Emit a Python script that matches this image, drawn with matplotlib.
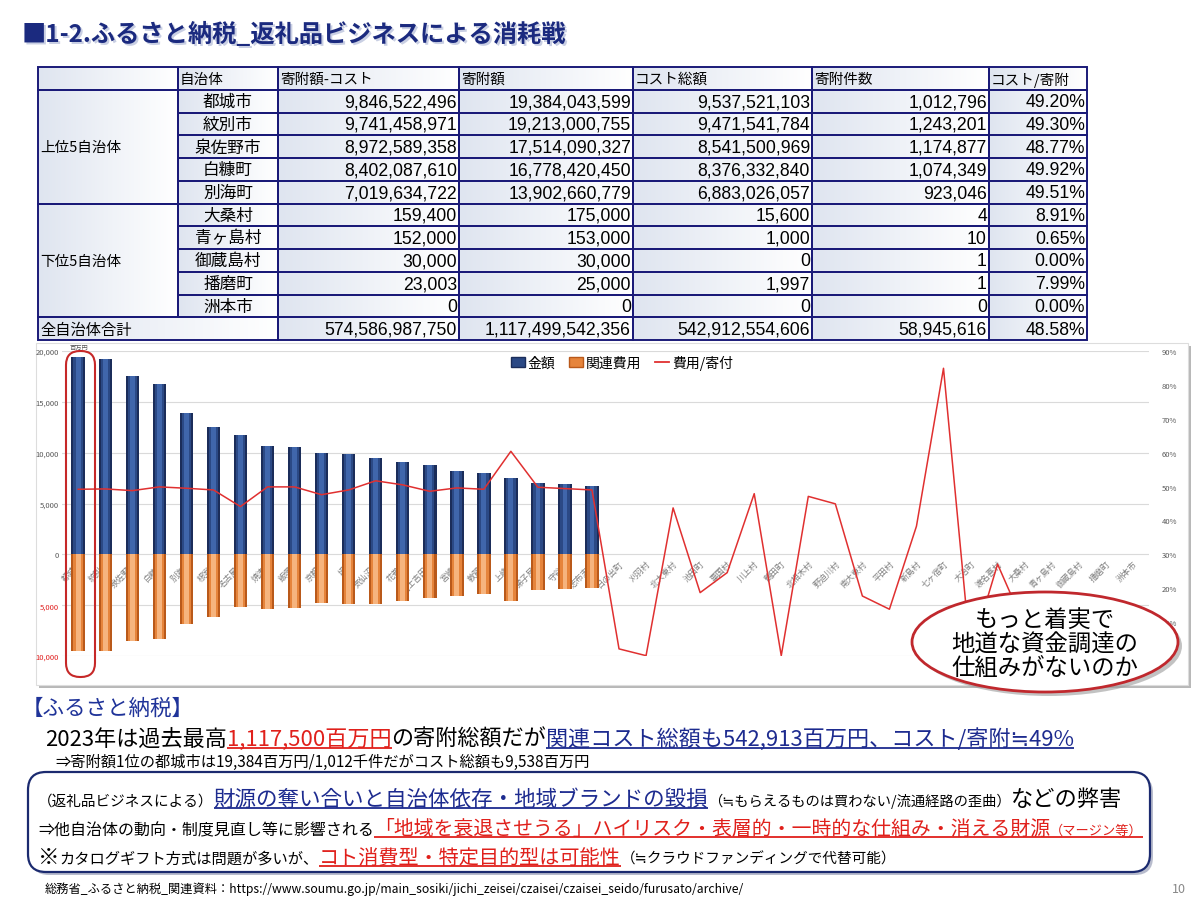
import matplotlib
matplotlib.use('Agg')
import matplotlib.pyplot as plt
import numpy as np
from matplotlib.patches import Rectangle, FancyBboxPatch, Ellipse
from matplotlib.lines import Line2D
from matplotlib.colors import LinearSegmentedColormap

plt.rcParams['font.family'] = ['Noto Sans CJK JP', 'DejaVu Sans']
NUMFAM = ['Liberation Sans', 'Noto Sans CJK JP']

# ---- table data ----
headers = ['', '自治体', '寄附額-コスト', '寄附額', 'コスト総額', '寄附件数', 'コスト/寄附']
tbl_munis = ['都城市', '紋別市', '泉佐野市', '白糠町', '別海町',
             '大桑村', '青ヶ島村', '御蔵島村', '播磨町', '洲本市']
tbl_net = [9846522496, 9741458971, 8972589358, 8402087610, 7019634722,
           159400, 152000, 30000, 23003, 0]
tbl_donation = [19384043599, 19213000755, 17514090327, 16778420450, 13902660779,
                175000, 153000, 30000, 25000, 0]
tbl_cost = [9537521103, 9471541784, 8541500969, 8376332840, 6883026057,
            15600, 1000, 0, 1997, 0]
tbl_count = [1012796, 1243201, 1174877, 1074349, 923046, 4, 10, 1, 1, 0]
tbl_ratio = [49.20, 49.30, 48.77, 49.92, 49.51, 8.91, 0.65, 0.00, 7.99, 0.00]
total_row = [574586987750, 1117499542356, 542912554606, 58945616, 48.58]

# ---- chart data (百万円) ----
munis = ['都城市', '紋別市', '泉佐野市', '白糠町', '別海町', '根室市', '名古屋市', '焼津市',
         '飯塚市', '京都市', '境町', '気仙沼市', '花巻市', '富士吉田市', '宮崎市', '敦賀市',
         '上峰町', '弟子屈町', '守谷市', '志布志市',
         '日の出町', '刈羽村', '北大東村', '池田町', '粟国村', '川上村', '鶴田町', '北相木村',
         '野迫川村', '南大東村', '平田村', '新島村', '七ヶ宿町', '大治町', '渡名喜村', '大桑村',
         '青ヶ島村', '御蔵島村', '播磨町', '洲本市']
donation = [19384, 19213, 17514, 16778, 13903, 12566, 11711, 10691, 10526, 9967,
            9901, 9441, 9046, 8783, 8158, 7961, 7500, 7039, 6875, 6711,
            1.2, 1.1, 1.0, 0.9, 0.9, 0.8, 0.8, 0.7, 0.7, 0.6,
            0.6, 0.5, 0.5, 0.4, 0.3, 0.175, 0.153, 0.03, 0.025, 0]
cost = [9538, 9472, 8542, 8376, 6883, 6151, 5197, 5329, 5263, 4770,
        4868, 4901, 4572, 4309, 4079, 3914, 4572, 3553, 3421, 3355,
        0.03, 0.0, 0.44, 0.17, 0.22, 0.38, 0.0, 0.33, 0.31, 0.11,
        0.08, 0.19, 0.42, 0.0, 0.08, 0.016, 0.001, 0, 0.002, 0]
ratio = [0.492, 0.493, 0.488, 0.499, 0.495, 0.490, 0.441, 0.499, 0.499, 0.476,
         0.490, 0.517, 0.505, 0.486, 0.496, 0.492, 0.604, 0.498, 0.494, 0.490,
         0.021, 0.001, 0.437, 0.187, 0.246, 0.479, 0.001, 0.471, 0.449, 0.177,
         0.138, 0.383, 0.849, 0.005, 0.271, 0.0891, 0.0065, 0.0, 0.0799, 0.0]

W, H = 1200, 903
fig = plt.figure(figsize=(12, 9.03), dpi=100)
bg = fig.add_axes([0, 0, 1, 1], zorder=0)
bg.axis('off')

NAVY = '#1b2a7f'
RED = '#e0201b'
BLUE = '#1d2b8f'

# title
title = '■1-2.ふるさと納税_返礼品ビジネスによる消耗戦'
bg.text(24, 36, title, fontsize=17.5, color='#c9cfe3', weight='bold', va='center')
bg.text(22, 34, title, fontsize=17.5, color=NAVY, weight='bold', va='center')

# table
col_x = [38, 178, 278, 459, 633, 812, 989, 1087]
row_y = [68 + 22.75 * i for i in range(13)]
grad = np.linspace(0, 1, 64).reshape(1, -1)
gcmap = LinearSegmentedColormap.from_list('g', ['#dfe5f0', '#ffffff'])


def cell(c0, c1, r0, r1, text='', align='left', size=10.5, fam=None):
    x0, x1 = col_x[c0], col_x[c1]
    y0, y1 = row_y[r0], row_y[r1]
    bg.imshow(grad, extent=[x0, x1, y1, y0], aspect='auto', cmap=gcmap, zorder=1)
    bg.add_patch(Rectangle((x0, y0), x1 - x0, y1 - y0, fill=False, ec='#1a1a78', lw=1.4, zorder=3))
    if not text:
        return
    ym = (y0 + y1) / 2 + 0.5
    kw = dict(fontsize=size, va='center', zorder=4, color='black')
    if fam:
        kw['family'] = fam
    if align == 'left':
        bg.text(x0 + 2, ym, text, ha='left', **kw)
    elif align == 'center':
        bg.text((x0 + x1) / 2, ym, text, ha='center', **kw)
    else:
        bg.text(x1 - 2, ym, text, ha='right', **kw)


for c, h in enumerate(headers):
    cell(c, c + 1, 0, 1, h, 'left', 10.5)
cell(0, 1, 1, 6, '上位5自治体', 'left', 10.5)
cell(0, 1, 6, 11, '下位5自治体', 'left', 10.5)
for i in range(10):
    r = i + 1
    cell(1, 2, r, r + 1, tbl_munis[i], 'center', 12)
    cell(2, 3, r, r + 1, f'{tbl_net[i]:,}', 'right', 12.7, NUMFAM)
    cell(3, 4, r, r + 1, f'{tbl_donation[i]:,}', 'right', 12.7, NUMFAM)
    cell(4, 5, r, r + 1, f'{tbl_cost[i]:,}', 'right', 12.7, NUMFAM)
    cell(5, 6, r, r + 1, f'{tbl_count[i]:,}', 'right', 12.7, NUMFAM)
    cell(6, 7, r, r + 1, f'{tbl_ratio[i]:.2f}%', 'right', 12.7, NUMFAM)
cell(0, 2, 11, 12, '全自治体合計', 'left', 11)
for k in range(4):
    cell(k + 2, k + 3, 11, 12, f'{total_row[k]:,}', 'right', 12.7, NUMFAM)
cell(6, 7, 11, 12, f'{total_row[4]:.2f}%', 'right', 12.7, NUMFAM)

# chart box
bg.add_patch(Rectangle((39, 347), 1152, 342, fc='#b8b8b8', ec='none', zorder=1))
bg.add_patch(Rectangle((36, 344), 1152, 342, fc='white', ec='#dddddd', lw=0.8, zorder=2))
bg.set_xlim(0, W)
bg.set_ylim(H, 0)

# ---- chart ----
ax = fig.add_axes([62 / W, 1 - 657 / H, (1149 - 62) / W, (657 - 352) / H], zorder=2)
ax.set_facecolor('none')
x = np.arange(len(munis))
bw = 0.5
for frac, cb, co in [(1.0, '#1b2d5a', '#b9591a'), (0.7, '#2b4985', '#e6843b'),
                     (0.35, '#4066ab', '#f6b47e')]:
    ax.bar(x, donation, width=bw * frac, color=cb, zorder=3)
    ax.bar(x, [-v for v in cost], width=bw * frac, color=co, zorder=3)
ax.set_xlim(-0.6, len(munis) - 0.4)
ax.set_ylim(-10000, 20000)
yt = list(range(-10000, 20001, 5000))
ax.set_yticks(yt)
ax.set_yticklabels([f'{abs(v):,}' for v in yt])
for lab, v in zip(ax.get_yticklabels(), yt):
    lab.set_color('#e02020' if v < 0 else '#595959')
ax.tick_params(axis='y', length=0, labelsize=5.5, pad=2)
ax.grid(axis='y', color='#dadada', lw=0.8)
ax.set_axisbelow(True)
for s in ax.spines.values():
    s.set_visible(False)
ax.spines['bottom'].set_position(('data', 0))
ax.set_xticks(x)
ax.set_xticklabels(munis, rotation=45, ha='right', rotation_mode='anchor',
                   fontsize=6, color='#808080')
ax.tick_params(axis='x', length=0, pad=3)

ax2 = ax.twinx()
ax2.plot(x, ratio, color='#e03030', lw=1.1, zorder=5)
ax2.set_ylim(0, 0.9)
rt = [i / 10 for i in range(10)]
ax2.set_yticks(rt)
ax2.set_yticklabels([f'{int(round(v * 100))}%' for v in rt])
ax2.tick_params(axis='y', length=0, labelsize=5.5, pad=9, colors='#595959')
for s in ax2.spines.values():
    s.set_visible(False)
handles = [Rectangle((0, 0), 1, 1, fc='#2b4985', ec='#1b2d5a'),
           Rectangle((0, 0), 1, 1, fc='#e6843b', ec='#b9591a'),
           Line2D([0], [0], color='#e03030', lw=1.3)]
ax2.legend(handles, ['金額', '関連費用', '費用/寄付'], loc='upper center',
           bbox_to_anchor=(0.515, 1.01), ncol=3, frameon=False, fontsize=10,
           handlelength=1.0, handletextpad=0.2, columnspacing=1.0, borderaxespad=0.1)

# ---- overlay ----
ov = fig.add_axes([0, 0, 1, 1], zorder=10)
ov.set_xlim(0, W)
ov.set_ylim(H, 0)
ov.axis('off')
ov.patch.set_alpha(0)

ov.text(70, 352, '百万円', fontsize=4.5, color='#555555', va='bottom')
ov.add_patch(FancyBboxPatch((66, 352), 29, 326, boxstyle='round,pad=0,rounding_size=14',
                            fill=False, ec='#c62828', lw=1.5))
ov.add_patch(Ellipse((1049, 647), 266, 100, fc='#9a9a9a', ec='none', alpha=0.6))
ov.add_patch(Ellipse((1045, 643), 266, 100, fc='white', ec='#c0282d', lw=2))
ov.text(1045, 645, 'もっと着実で\n地道な資金調達の\n仕組みがないのか', ha='center', va='center',
        fontsize=16.8, linespacing=1.05)

renderer = fig.canvas.get_renderer()


def runs(x0, y, parts):
    xx = x0
    for text, size, color, ul in parts:
        t = ov.text(xx, y, text, fontsize=size, color=color, va='baseline', ha='left')
        w = t.get_window_extent(renderer).width
        if ul:
            ov.plot([xx, xx + w], [y + 3, y + 3], color=color, lw=1.3, solid_capstyle='butt')
        xx += w
    return xx


runs(22, 715, [('【ふるさと納税】', 15.5, '#1f3399', False)])
runs(45, 746, [('2023年は過去最高', 15.9, 'black', False),
               ('1,117,500百万円', 15.9, RED, True),
               ('の寄附総額だが', 15.9, 'black', False),
               ('関連コスト総額も542,913百万円、コスト/寄附≒49%', 15.9, BLUE, True)])
runs(55, 767, [('⇒寄附額1位の都城市は19,384百万円/1,012千件だがコスト総額も9,538百万円', 11, 'black', False)])

ov.add_patch(FancyBboxPatch((31, 776), 1122, 100, boxstyle='round,pad=0,rounding_size=18',
                            fc='#9aa0b8', ec='none', alpha=0.7))
ov.add_patch(FancyBboxPatch((28, 773), 1122, 100, boxstyle='round,pad=0,rounding_size=18',
                            fc='white', ec='#1b2a6f', lw=1.6))
runs(38, 806, [('（返礼品ビジネスによる）', 10.5, 'black', False),
               ('財源の奪い合いと自治体依存・地域ブランドの毀損', 15.5, BLUE, True),
               ('（≒もらえるものは買わない/流通経路の歪曲）', 10.3, 'black', False),
               ('などの弊害', 16, 'black', False)])
runs(38, 835, [('⇒他自治体の動向・制度見直し等に影響される', 11.5, 'black', False),
               ('「地域を衰退させうる」ハイリスク・表層的・一時的な仕組み・消える財源', 14.3, RED, True),
               ('（マージン等）', 9.5, RED, True)])
runs(38, 864, [('※', 15.5, 'black', False),
               ('カタログギフト方式は問題が多いが、', 11, 'black', False),
               ('コト消費型・特定目的型は可能性', 14.5, RED, True),
               ('（≒クラウドファンディングで代替可能）', 10.5, 'black', False)])

runs(45, 893, [('総務省_ふるさと納税_関連資料：https://www.soumu.go.jp/main_sosiki/jichi_zeisei/czaisei/czaisei_seido/furusato/archive/',
                8.8, 'black', False)])
ov.text(1186, 893, '10', fontsize=9, color='#888888', ha='right', va='baseline')

fig.savefig('out.png', dpi=100)
